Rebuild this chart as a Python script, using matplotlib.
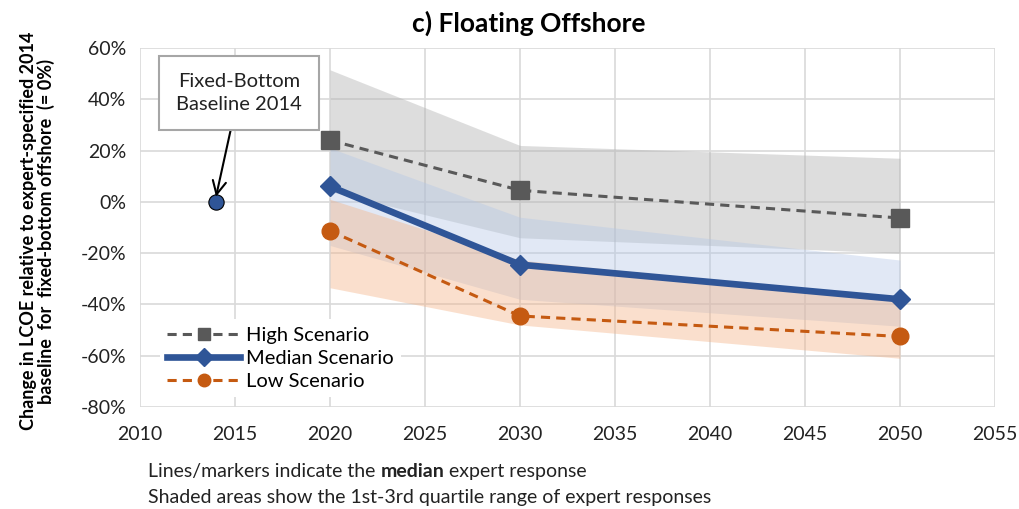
import numpy as np
import matplotlib
matplotlib.use('Agg')
import matplotlib.pyplot as plt
from matplotlib.ticker import PercentFormatter

plt.rcParams['font.family'] = ['Lato', 'DejaVu Sans']
plt.rcParams['axes.unicode_minus'] = False

years = [2020, 2030, 2050]

high = [24, 4.5, -6.3]
median = [6, -24.5, -38]
low = [-11.3, -44.5, -52.5]

# quartile ranges (shaded)
high_q1 = [4, -14, -20]
high_q3 = [51.5, 22, 17]
median_q1 = [-17, -38, -48.5]
median_q3 = [21, -6, -22.7]
low_q1 = [-33.5, -48, -61]
low_q3 = [1, -22.7, -38]

base_year = 2014
base_value = 0

fig = plt.figure(figsize=(10.19, 5.09), dpi=100)
ax = fig.add_axes([0.1374, 0.2004, 0.839, 0.7053])

ax.fill_between(years, high_q1, high_q3, color='#b0b0b0', alpha=0.42, lw=0, zorder=1)
ax.fill_between(years, median_q1, median_q3, color='#b4c7e7', alpha=0.40, lw=0, zorder=1)
ax.fill_between(years, low_q1, low_q3, color='#f4b183', alpha=0.40, lw=0, zorder=1)

ax.plot(years, high, color='#595959', ls=(0, (3, 2)), lw=2.2, marker='s', ms=13,
        label='High Scenario', zorder=4)
ax.plot(years, median, color='#2f5597', ls='-', lw=4.8, marker='D', ms=10,
        label='Median Scenario', zorder=5)
ax.plot(years, low, color='#c55a11', ls=(0, (3, 2)), lw=2.2, marker='o', ms=12,
        label='Low Scenario', zorder=4)

ax.plot([base_year], [base_value], marker='o', ms=11, color='#2f5597',
        mec='black', mew=0.8, ls='none', zorder=6)

ax.annotate('Fixed-Bottom\nBaseline 2014', xy=(base_year, base_value + 2),
            xytext=(2015.2, 42.5), ha='center', va='center', fontsize=14.5,
            color='#222222', linespacing=1.45,
            bbox=dict(boxstyle='square,pad=0.85', fc='white', ec='#a6a6a6', lw=1.5),
            arrowprops=dict(arrowstyle='->', color='black', lw=1.5,
                            mutation_scale=24, shrinkA=0, shrinkB=0), zorder=7)

ax.set_xlim(2010, 2055)
ax.set_ylim(-80, 60)
ax.set_xticks(np.arange(2010, 2056, 5))
ax.set_yticks(np.arange(-80, 61, 20))
ax.yaxis.set_major_formatter(PercentFormatter(decimals=0))
ax.grid(True, color='#d9d9d9', lw=1.2)
ax.set_axisbelow(True)
for s in ax.spines.values():
    s.set_visible(False)
ax.tick_params(length=0, labelsize=14, labelcolor='#222222')
ax.tick_params(axis='x', pad=14)
ax.tick_params(axis='y', pad=10)

ax.set_title('c) Floating Offshore', fontsize=19, fontweight='bold', x=0.455, pad=12)
ax.set_ylabel('Change in LCOE relative to expert-specified 2014\n'
              'baseline  for  fixed-bottom offshore  (= 0%)',
              fontsize=13, fontweight='bold', linespacing=1.05)
ax.yaxis.set_label_coords(-0.099, 0.49)

leg = ax.legend(loc='lower left', bbox_to_anchor=(0.012, 0.0), frameon=True,
                fontsize=14.5, handlelength=3.6, labelspacing=0.3,
                borderpad=0.35, handletextpad=0.3)
leg.get_frame().set_edgecolor('none')
leg.get_frame().set_facecolor('white')
leg.get_frame().set_alpha(1)
for h in leg.legend_handles:
    h.set_markersize(9)
leg.set_zorder(8)

t1 = fig.text(0.1452, 0.063, 'Lines/markers indicate the ', fontsize=14, color='#222222')
t2 = ax.annotate('median', xy=(1, 0), xycoords=t1, va='bottom', fontsize=14,
                 fontweight='bold', color='#222222', annotation_clip=False)
ax.annotate(' expert response', xy=(1, 0), xycoords=t2, va='bottom', fontsize=14,
            color='#222222', annotation_clip=False)
fig.text(0.1452, 0.011, 'Shaded areas show the 1st-3rd quartile range of expert responses',
         fontsize=14, color='#222222')

fig.savefig('out.png', dpi=100)
